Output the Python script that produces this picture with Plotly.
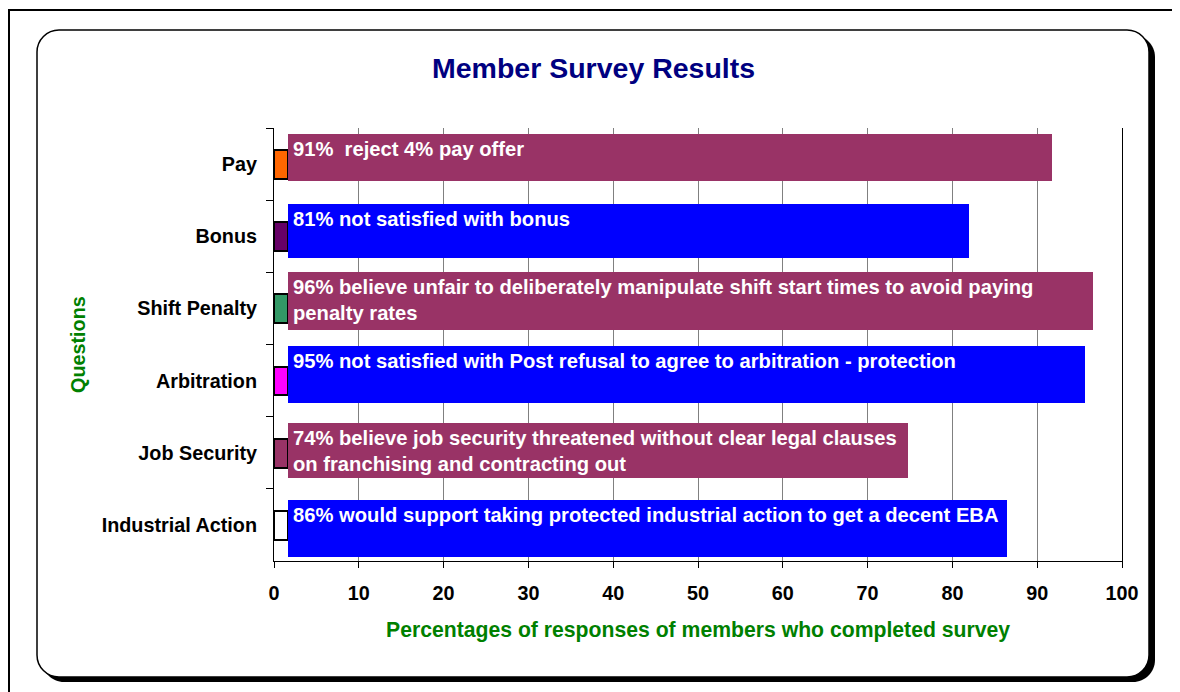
import plotly.graph_objects as go

# ---------------- data ----------------
questions = ["Pay", "Bonus", "Shift Penalty", "Arbitration", "Job Security", "Industrial Action"]
marker_values = [1.65, 1.65, 1.65, 1.65, 1.65, 1.65]
response_values = [91.8, 82.0, 96.6, 95.6, 74.8, 86.4]
response_labels = [
    "91%  reject 4% pay offer",
    "81% not satisfied with bonus",
    "96% believe unfair to deliberately manipulate shift start times to avoid paying<br>penalty rates",
    "95% not satisfied with Post refusal to agree to arbitration - protection",
    "74% believe job security threatened without clear legal clauses<br>on franchising and contracting out",
    "86% would support taking protected industrial action to get a decent EBA",
]
x_ticks = [0, 10, 20, 30, 40, 50, 60, 70, 80, 90, 100]

# ---------------- styles ----------------
marker_colors = ["#FF6600", "#660066", "#339966", "#FF00FF", "#993366", "#FFFFFF"]
box_colors = ["#993366", "#0000FF", "#993366", "#0000FF", "#993366", "#0000FF"]
box_top_px = [-30, -32, -36, -35, -30, -25]     # label box top relative to band centre
box_bottom_px = [17, 22, 22, 22, 25, 32]        # label box bottom relative to band centre

FONT = "Liberation Sans, Arial, sans-serif"
W, H = 1172, 684
OFF = 8
ML, MR, MT, MB = 266, 58, 120, 131
PW = W - ML - MR
PH = H - MT - MB
BAND = PH / len(questions)


def px(x):
    return (x - OFF - ML) / PW


def py(y):
    return 1 - (y - OFF - MT) / PH


def rrect(x0, y0, x1, y1, r):
    k = 0.5523 * r
    return (
        f"M {px(x0 + r)},{py(y0)} L {px(x1 - r)},{py(y0)} "
        f"C {px(x1 - r + k)},{py(y0)} {px(x1)},{py(y0 + r - k)} {px(x1)},{py(y0 + r)} "
        f"L {px(x1)},{py(y1 - r)} "
        f"C {px(x1)},{py(y1 - r + k)} {px(x1 - r + k)},{py(y1)} {px(x1 - r)},{py(y1)} "
        f"L {px(x0 + r)},{py(y1)} "
        f"C {px(x0 + r - k)},{py(y1)} {px(x0)},{py(y1 - r + k)} {px(x0)},{py(y1 - r)} "
        f"L {px(x0)},{py(y0 + r)} "
        f"C {px(x0)},{py(y0 + r - k)} {px(x0 + r - k)},{py(y0)} {px(x0 + r)},{py(y0)} Z"
    )


fig = go.Figure()

fig.add_trace(go.Bar(
    orientation="h", y=questions, x=marker_values, base=0,
    width=0.40, offset=-0.194,
    marker=dict(color=marker_colors, line=dict(color="black", width=2)),
    hoverinfo="skip", showlegend=False,
))

fig.add_trace(go.Bar(
    orientation="h", y=questions,
    x=[r - m for r, m in zip(response_values, marker_values)],
    base=marker_values,
    width=[(b - t) / BAND for t, b in zip(box_top_px, box_bottom_px)],
    offset=[t / BAND for t in box_top_px],
    marker=dict(color=box_colors, line=dict(width=0)),
    hoverinfo="skip", showlegend=False,
))

annotations = []
for q, m, lab, t in zip(questions, marker_values, response_labels, box_top_px):
    annotations.append(dict(
        x=m, y=q, xref="x", yref="y", text=lab, showarrow=False,
        xanchor="left", yanchor="top", align="left", xshift=3, yshift=-t - 2,
        font=dict(family=FONT, size=20.2, color="white", weight="bold"),
    ))

annotations.append(dict(
    x=px(593), y=py(68), xref="paper", yref="paper", text="Member Survey Results",
    showarrow=False, xanchor="center", yanchor="middle",
    font=dict(family=FONT, size=28.5, color="#000080", weight="bold"),
))
annotations.append(dict(
    x=px(698), y=py(630), xref="paper", yref="paper",
    text="Percentages of responses of members who completed survey",
    showarrow=False, xanchor="center", yanchor="middle",
    font=dict(family=FONT, size=21.2, color="#008000", weight="bold"),
))
annotations.append(dict(
    x=px(78), y=py(345), xref="paper", yref="paper", text="Questions",
    showarrow=False, xanchor="center", yanchor="middle", textangle=-90,
    font=dict(family=FONT, size=19.8, color="#008000", weight="bold"),
))

shapes = [
    dict(type="rect", xref="paper", yref="paper", x0=px(9), y0=py(10), x1=px(1300), y1=py(800),
         line=dict(color="black", width=2), fillcolor="rgba(0,0,0,0)", layer="below"),
    dict(type="path", xref="paper", yref="paper", path=rrect(42, 35, 1155, 682, 22),
         fillcolor="black", line=dict(width=0), layer="below"),
    dict(type="path", xref="paper", yref="paper", path=rrect(37, 30, 1149, 677, 22),
         fillcolor="white", line=dict(color="black", width=1.5), layer="below"),
]

fig.update_layout(
    width=W, height=H,
    margin=dict(l=ML, r=MR, t=MT, b=MB, pad=0),
    paper_bgcolor="white", plot_bgcolor="rgba(0,0,0,0)",
    barmode="overlay", bargap=0,
    showlegend=False,
    annotations=annotations, shapes=shapes,
    font=dict(family=FONT, size=19.8, color="black"),
)

fig.update_xaxes(
    range=[0, 100], tickvals=x_ticks, ticktext=[str(v) for v in x_ticks],
    showgrid=True, gridcolor="#808080", gridwidth=1,
    showline=True, linecolor="black", linewidth=1,
    ticks="outside", ticklen=6, tickcolor="black", tickwidth=1,
    zeroline=False, ticklabelstandoff=8,
    tickfont=dict(family=FONT, size=19.8, color="black", weight="bold"),
    fixedrange=True,
)
fig.update_yaxes(
    type="category", categoryorder="array", categoryarray=questions,
    autorange="reversed",
    showgrid=False, showline=True, linecolor="black", linewidth=1, mirror=True,
    ticks="outside", tickson="boundaries", ticklen=7, tickcolor="black", tickwidth=1,
    ticklabelstandoff=12,
    tickfont=dict(family=FONT, size=19.8, color="black", weight="bold"),
    fixedrange=True,
)

fig.write_html("out.html")
